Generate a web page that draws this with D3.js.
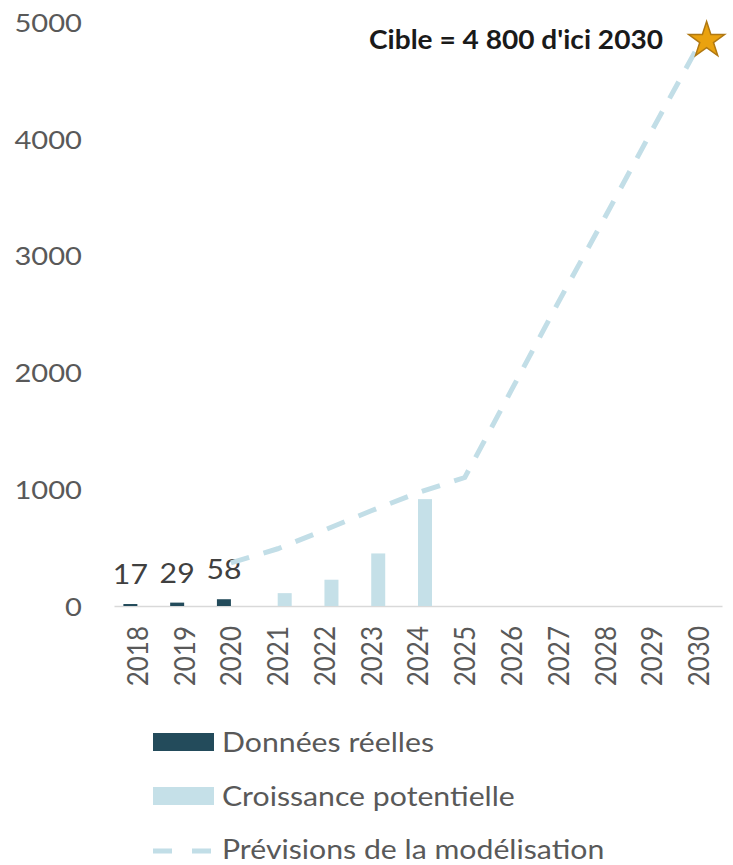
<!DOCTYPE html>
<html>
<head>
<meta charset="utf-8">
<script src="https://cdn.jsdelivr.net/npm/d3@7"></script>
<style>
  html, body { margin: 0; padding: 0; background: #ffffff; }
  svg { display: block; }
</style>
</head>
<body>
<div id="chart"></div>
<script>
// ---- Data ----
const years = ["2018","2019","2020","2021","2022","2023","2024","2025","2026","2027","2028","2029","2030"];
const realValues = [17, 29, 58, null, null, null, null, null, null, null, null, null, null];
const potentialValues = [null, null, null, 110, 225, 450, 915, null, null, null, null, null, null];
const forecastValues = [null, null, 370, 490, 650, 815, 970, 1100, 1850, 2600, 3330, 4070, 4800];
const yTicks = [0, 1000, 2000, 3000, 4000, 5000];
const targetYear = "2030";
const targetValue = 4800;
const targetLabel = "Cible = 4 800 d'ici 2030";
const seriesNames = ["Données réelles", "Croissance potentielle", "Prévisions de la modélisation"];

// ---- Layout ----
const W = 733, H = 865;
const margin = { left: 114, right: 11, top: 22, bottom: 259 };
const plotBottom = H - margin.bottom; // 606
const colors = { real: "#234b5b", potential: "#c5e0e8", line: "#c2dee7", star: "#eaa20f", starStroke: "#b07812" };
const font = "Lato, 'Open Sans', sans-serif";
const sx = 1.12; // horizontal glyph stretch seen in the reference

const svg = d3.select("#chart").append("svg").attr("width", W).attr("height", H);

const x = d3.scaleBand().domain(years).range([margin.left, W - margin.right]).paddingInner(0).paddingOuter(0);
const y = d3.scaleLinear().domain([0, 5000]).range([plotBottom, plotBottom - 5000 * 0.1168]);

const sub = d3.scaleBand().domain(["real", "potential"])
  .range([x.bandwidth() / 2 - 14, x.bandwidth() / 2 + 14]);

// Y axis (labels only)
const yAxis = d3.axisLeft(y).tickValues(yTicks).tickSize(0).tickPadding(0).tickFormat(d3.format("d"));
const gy = svg.append("g").attr("transform", `translate(82,0)`).call(yAxis);
gy.select(".domain").remove();
gy.selectAll("text").attr("font-family", font).attr("font-size", 26).attr("fill", "#595959")
  .attr("x", 0).attr("dy", "0.36em").attr("transform", `scale(${sx},1)`);

// X axis
const xAxis = d3.axisBottom(x).tickSize(0).tickPadding(0);
const gx = svg.append("g").attr("transform", `translate(0,${plotBottom})`).call(xAxis);
gx.select(".domain").attr("stroke", "#d9d9d9").attr("stroke-width", 1.5);
gx.selectAll("text")
  .attr("font-family", font).attr("font-size", 26).attr("fill", "#595959")
  .attr("transform", `rotate(-90) scale(1,${sx})`)
  .attr("text-anchor", "end")
  .attr("x", -20).attr("y", 0).attr("dy", "0.36em");

// Bars: real data
const realData = years.map((yr, i) => ({ yr, v: realValues[i] })).filter(d => d.v != null);
svg.append("g").selectAll("rect").data(realData).join("rect")
  .attr("x", d => x(d.yr) + sub("real"))
  .attr("width", sub.bandwidth())
  .attr("y", d => y(d.v))
  .attr("height", d => y(0) - y(d.v))
  .attr("fill", colors.real);

// Bars: potential
const potData = years.map((yr, i) => ({ yr, v: potentialValues[i] })).filter(d => d.v != null);
svg.append("g").selectAll("rect").data(potData).join("rect")
  .attr("x", d => x(d.yr) + sub("potential"))
  .attr("width", sub.bandwidth())
  .attr("y", d => y(d.v))
  .attr("height", d => y(0) - y(d.v))
  .attr("fill", colors.potential);

// Value labels for real data
svg.append("g").selectAll("text").data(realData).join("text")
  .attr("transform", d => `translate(${x(d.yr) + sub("real") + sub.bandwidth() / 2},${y(d.v) - 20}) scale(${sx},1)`)
  .attr("text-anchor", "middle")
  .attr("font-family", font).attr("font-size", 27).attr("fill", "#404040")
  .text(d => d.v);

// Forecast line
const lineData = years.map((yr, i) => ({ yr, v: forecastValues[i] })).filter(d => d.v != null);
const line = d3.line().x(d => x(d.yr) + x.bandwidth() / 2).y(d => y(d.v));
svg.append("path").datum(lineData)
  .attr("d", line)
  .attr("fill", "none")
  .attr("stroke", colors.line)
  .attr("stroke-width", 5)
  .attr("stroke-dasharray", "19,15");

// Target star
const starX = x(targetYear) + x.bandwidth() / 2 + 8;
const starY = y(targetValue) - 5;
svg.append("path")
  .attr("d", d3.symbol(d3.symbolStar, 400)())
  .attr("transform", `translate(${starX},${starY})`)
  .attr("fill", colors.star)
  .attr("stroke", colors.starStroke)
  .attr("stroke-width", 1.5);

svg.append("text")
  .attr("transform", `translate(663,49) scale(1.06,1)`)
  .attr("text-anchor", "end")
  .attr("font-family", font).attr("font-weight", "bold").attr("font-size", 26.5)
  .attr("fill", "#1a1a1a")
  .text(targetLabel);

// Legend
const lg = svg.append("g").attr("transform", "translate(153,0)");
const rows = [742, 796, 849];
lg.append("rect").attr("x", 0).attr("y", rows[0] - 9).attr("width", 61).attr("height", 18).attr("fill", colors.real);
lg.append("rect").attr("x", 0).attr("y", rows[1] - 9).attr("width", 61).attr("height", 18).attr("fill", colors.potential);
lg.append("line").attr("x1", 0).attr("x2", 61).attr("y1", rows[2] + 2).attr("y2", rows[2] + 2)
  .attr("stroke", colors.line).attr("stroke-width", 5).attr("stroke-dasharray", "19,20");
lg.selectAll("text.leg").data(seriesNames).join("text")
  .attr("class", "leg")
  .attr("transform", (d, i) => `translate(69,${rows[i]}) scale(${sx},1)`)
  .attr("dy", "0.36em")
  .attr("font-family", font).attr("font-size", 27).attr("fill", "#595959")
  .text(d => d);
</script>
</body>
</html>
